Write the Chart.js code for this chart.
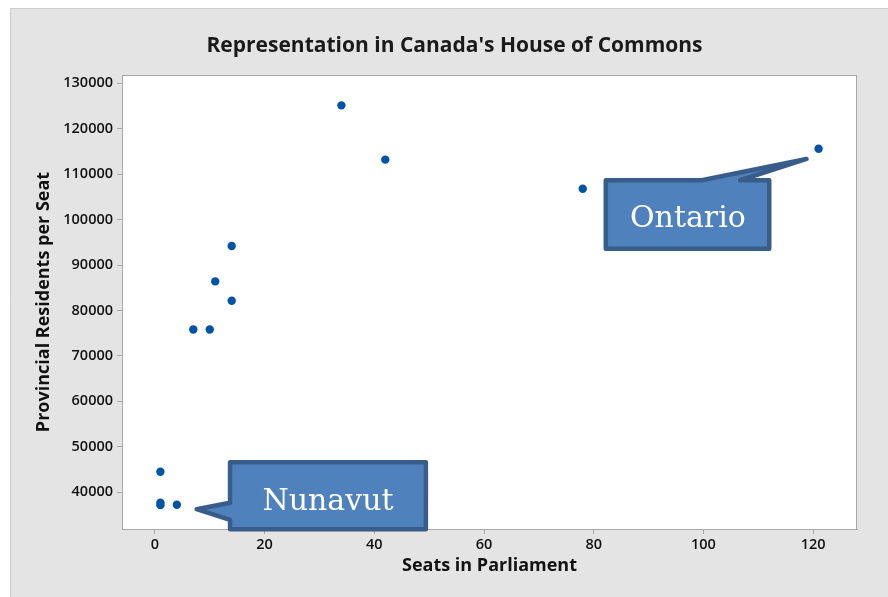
<!DOCTYPE html>
<html><head><meta charset="utf-8">
<script src="https://cdn.jsdelivr.net/npm/chart.js@4.4.0/dist/chart.umd.min.js"></script>
<style>html,body{margin:0;padding:0;background:#fff;}#wrap{width:888px;height:597px;}</style>
</head><body><div id="wrap"><canvas id="c" width="888" height="597"></canvas></div>
<script>
// ---- data ----
const seats = [1, 1, 1, 4, 7, 10, 11, 14, 14, 34, 42, 78, 121];
const residentsPerSeat = [44500, 37700, 37150, 37250, 75800, 75800, 86400, 82150, 94200, 125150, 113200, 106800, 115600];
const chartTitle = "Representation in Canada's House of Commons";
const xTitle = 'Seats in Parliament';
const yTitle = 'Provincial Residents per Seat';
const xRange = [-6, 128];
const yRange = [31900, 131830];
const xTicks = [0, 20, 40, 60, 80, 100, 120];
const yTicks = [40000, 50000, 60000, 70000, 80000, 90000, 100000, 110000, 120000, 130000];
// callout annotations (data coordinates)
const calloutLabels = ['Nunavut', 'Ontario'];
const calloutBoxes = [
  {x0: 13.7, x1: 49.4, y0: 46600, y1: 31850},
  {x0: 82.2, x1: 112.0, y0: 108660, y1: 93610}
];
const calloutTips = [{x: 7.6, y: 36260}, {x: 118.8, y: 113350}];
const calloutTextAnchors = [{x: 31.55, y: 36105}, {x: 97.17, y: 98450}];

const framePlugin = {
  id: 'frame',
  beforeDraw(chart) {
    const {ctx, chartArea: a} = chart;
    ctx.save();
    ctx.fillStyle = '#ffffff';
    ctx.fillRect(0, 0, chart.width, chart.height);
    ctx.fillStyle = '#e4e4e4';
    ctx.fillRect(10, 8, chart.width - 10, chart.height - 8);
    ctx.strokeStyle = '#cdcdcd';
    ctx.lineWidth = 1;
    ctx.beginPath();
    ctx.moveTo(10.5, chart.height); ctx.lineTo(10.5, 8.5); ctx.lineTo(chart.width, 8.5);
    ctx.stroke();
    ctx.fillStyle = '#ffffff';
    ctx.fillRect(a.left, a.top, a.right - a.left, a.bottom - a.top);
    // chart title
    ctx.fillStyle = '#1a1a1a';
    ctx.font = 'bold 21px "Open Sans"';
    ctx.textAlign = 'center';
    ctx.textBaseline = 'middle';
    ctx.fillText(chartTitle, 454.5, 46);
    ctx.restore();
  },
  afterDatasetsDraw(chart) {
    const {ctx, chartArea: a} = chart;
    ctx.save();
    ctx.strokeStyle = '#a8a8a8';
    ctx.lineWidth = 1;
    ctx.strokeRect(a.left + 0.5, a.top + 0.5, a.right - a.left - 1, a.bottom - a.top);
    ctx.restore();
  }
};

const calloutPlugin = {
  id: 'callouts',
  afterDraw(chart) {
    const {ctx} = chart;
    const xs = chart.scales.x, ys = chart.scales.y;
    ctx.save();
    calloutLabels.forEach((label, i) => {
      const b = calloutBoxes[i], t = calloutTips[i], ta = calloutTextAnchors[i];
      const L = xs.getPixelForValue(b.x0), R = xs.getPixelForValue(b.x1);
      const T = ys.getPixelForValue(b.y0), B = ys.getPixelForValue(b.y1);
      const tx = xs.getPixelForValue(t.x), ty = ys.getPixelForValue(t.y);
      ctx.beginPath();
      if (tx < L) {
        const w0 = T + (B - T) * 0.605, w1 = T + (B - T) * 0.86;
        ctx.moveTo(L, T); ctx.lineTo(R, T); ctx.lineTo(R, B); ctx.lineTo(L, B);
        ctx.lineTo(L, w1); ctx.lineTo(tx, ty); ctx.lineTo(L, w0); ctx.closePath();
      } else {
        const w0 = L + (R - L) * 0.587, w1 = L + (R - L) * 0.822;
        ctx.moveTo(L, T); ctx.lineTo(w0, T); ctx.lineTo(tx, ty); ctx.lineTo(w1, T);
        ctx.lineTo(R, T); ctx.lineTo(R, B); ctx.lineTo(L, B); ctx.closePath();
      }
      ctx.fillStyle = '#4f81bd';
      ctx.fill();
      ctx.lineJoin = 'round';
      ctx.lineWidth = 4.5;
      ctx.strokeStyle = '#385d8a';
      ctx.stroke();
      ctx.fillStyle = '#ffffff';
      ctx.font = '30px "DejaVu Serif"';
      ctx.textAlign = 'center';
      ctx.textBaseline = 'alphabetic';
      ctx.fillText(label, xs.getPixelForValue(ta.x), ys.getPixelForValue(ta.y));
    });
    ctx.restore();
  }
};

const tickFont = {family: 'Open Sans', size: 14.5, weight: '600'};
const axisTitleFont = {family: 'Open Sans', size: 18, weight: 'bold'};

new Chart(document.getElementById('c'), {
  type: 'scatter',
  data: {
    datasets: [{
      data: seats.map((s, i) => ({x: s, y: residentsPerSeat[i]})),
      backgroundColor: '#0054a6',
      borderWidth: 0,
      pointRadius: 4.2,
      pointHoverRadius: 4.2
    }]
  },
  options: {
    responsive: false,
    animation: false,
    devicePixelRatio: 1,
    layout: {padding: {left: 12, right: 31, top: 75, bottom: 0}},
    plugins: {
      legend: {display: false},
      tooltip: {enabled: false},
      title: {display: false}
    },
    scales: {
      x: {
        type: 'linear', min: xRange[0], max: xRange[1],
        afterFit: s => { s.height = 68; },
        afterBuildTicks: s => { s.ticks = xTicks.map(v => ({value: v})); },
        ticks: {font: tickFont, color: '#111', padding: 2, maxRotation: 0, autoSkip: false,
                callback: v => String(v)},
        grid: {display: true, drawOnChartArea: false, drawTicks: true, tickLength: 5, color: '#a8a8a8'},
        border: {display: true, color: '#a8a8a8'},
        title: {display: true, text: xTitle, font: axisTitleFont, color: '#111', padding: {top: 0, bottom: 20}}
      },
      y: {
        type: 'linear', min: yRange[0], max: yRange[1],
        afterFit: s => { s.width = 110; },
        afterBuildTicks: s => { s.ticks = yTicks.map(v => ({value: v})); },
        ticks: {font: tickFont, color: '#111', padding: 4, autoSkip: false,
                callback: v => String(v)},
        grid: {display: true, drawOnChartArea: false, drawTicks: true, tickLength: 5, color: '#a8a8a8'},
        border: {display: true, color: '#a8a8a8'},
        title: {display: true, text: yTitle, font: axisTitleFont, color: '#111', padding: {top: 21, bottom: 0}}
      }
    }
  },
  plugins: [framePlugin, calloutPlugin]
});
</script></body></html>
